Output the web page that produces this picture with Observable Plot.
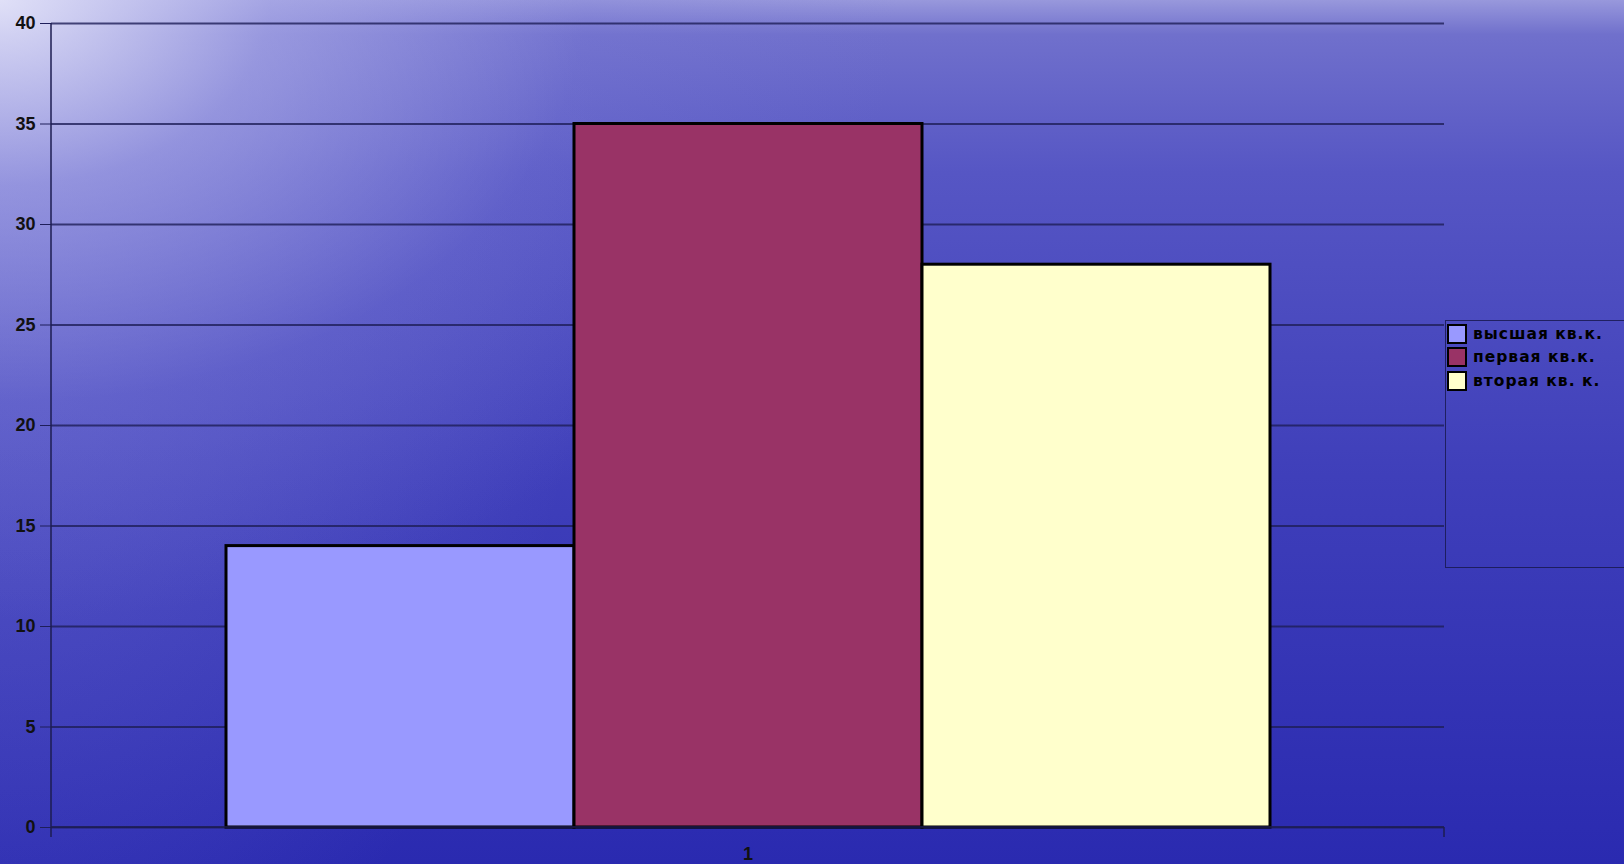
<!DOCTYPE html>
<html>
<head>
<meta charset="utf-8">
<script src="https://cdn.jsdelivr.net/npm/d3@7"></script>
<script src="https://cdn.jsdelivr.net/npm/@observablehq/plot@0.6"></script>
<style>
  html, body { margin: 0; padding: 0; width: 1624px; height: 864px; overflow: hidden; }
  body {
    position: relative;
    background:
      radial-gradient(ellipse 900px 620px at 0% 0%, rgba(232,232,250,0.9) 0%, rgba(175,175,232,0.6) 30%, rgba(125,125,215,0.25) 65%, rgba(0,0,0,0) 100%),
      radial-gradient(ellipse 600px 900px at 0% 20%, rgba(140,140,225,0.4) 0%, rgba(0,0,0,0) 100%),
      linear-gradient(to bottom, #9898dc 0%, #7070cc 4%, #5656c4 20%, #3f3fba 55%, #2a2ab0 100%);
    font-family: "Liberation Sans", Arial, sans-serif;
  }
  #chart { position: absolute; left: 0; top: 0; }
  #legend {
    position: absolute; left: 1445px; top: 320px; width: 220px; height: 248px;
    border: 1.5px solid rgba(25,25,80,0.85); box-sizing: border-box;
    padding-top: 1px;
  }
  .item { display: flex; align-items: center; height: 23.5px; }
  .sw { width: 16px; height: 16px; border: 2px solid #000; margin-left: 1px; margin-right: 6px; }
  .lab { font-family: "DejaVu Sans", sans-serif; font-weight: bold; font-size: 15.5px; letter-spacing: 1px; color: #000; }
</style>
</head>
<body>
<div id="chart"></div>
<div id="legend"></div>
<script>
const categories = ["1"];
const series = ["высшая кв.к.", "первая кв.к.", "вторая кв. к."];
const values = [14, 35, 28];
const colors = ["#9999ff", "#993366", "#ffffcc"];
const yTicks = [0, 5, 10, 15, 20, 25, 30, 35, 40];

const data = series.map((s, i) => ({series: s, value: values[i], category: categories[0]}));

const axisLines = (index, scales, values, dims) => {
  const g = d3.create("svg:g");
  const x0 = dims.marginLeft, x1 = dims.width - dims.marginRight;
  const y0 = dims.marginTop, y1 = dims.height - dims.marginBottom;
  g.append("line").attr("x1", x0).attr("x2", x0).attr("y1", y0).attr("y2", y1 + 10)
    .attr("stroke", "#1c1c50").attr("stroke-width", 1.5);
  g.append("line").attr("x1", x0).attr("x2", x1).attr("y1", y1).attr("y2", y1)
    .attr("stroke", "#1c1c50").attr("stroke-width", 1.5);
  g.append("line").attr("x1", x1).attr("x2", x1).attr("y1", y1).attr("y2", y1 + 10)
    .attr("stroke", "#1c1c50").attr("stroke-width", 1.5);
  return g.node();
};

const plot = Plot.plot({
  width: 1624,
  height: 864,
  marginLeft: 51,
  marginRight: 180,
  marginTop: 23,
  marginBottom: 37,
  style: {background: "transparent", fontFamily: "'Liberation Sans', Arial, sans-serif", color: "#111"},
  x: {domain: series, paddingInner: 0, paddingOuter: 0.5, axis: null},
  y: {domain: [0, 40], axis: null},
  color: {domain: series, range: colors},
  marks: [
    Plot.gridY(yTicks, {stroke: "#1e1e58", strokeOpacity: 0.8, strokeWidth: 1.8}),
    Plot.axisY(yTicks, {label: null, tickSize: 11, tickPadding: 5, stroke: "#1e1e5a", fontSize: 18, fontWeight: "bold", fill: "#111", tickFormat: d => String(d)}),
    Plot.barY(data, {x: "series", y: "value", fill: "series", stroke: "#000", strokeWidth: 3}),
    axisLines,
    Plot.text(categories, {text: d => d, frameAnchor: "bottom", dy: 27, lineAnchor: "middle", fontSize: 18, fontWeight: "bold", fill: "#111"})
  ]
});
document.getElementById("chart").appendChild(plot);

const legend = document.getElementById("legend");
series.forEach((s, i) => {
  const item = document.createElement("div");
  item.className = "item";
  const sw = document.createElement("div");
  sw.className = "sw";
  sw.style.background = colors[i];
  const lab = document.createElement("span");
  lab.className = "lab";
  lab.textContent = s;
  item.appendChild(sw);
  item.appendChild(lab);
  legend.appendChild(item);
});
</script>
</body>
</html>
